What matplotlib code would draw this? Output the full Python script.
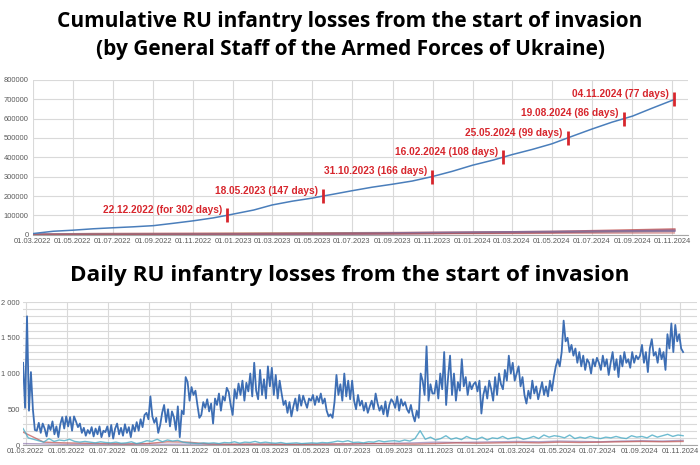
import matplotlib
matplotlib.use('Agg')
import matplotlib.pyplot as plt
import matplotlib.dates as mdates
import matplotlib.ticker as mticker
import pandas as pd

# ---------------- data ----------------
cum_dates = ['2022-03-01', '2022-04-01', '2022-05-01', '2022-06-01', '2022-07-01', '2022-08-01',
             '2022-09-01', '2022-10-01', '2022-11-01', '2022-12-01', '2022-12-22', '2023-01-01',
             '2023-02-01', '2023-03-01', '2023-04-01', '2023-05-01', '2023-05-18', '2023-06-01',
             '2023-07-01', '2023-08-01', '2023-09-01', '2023-10-01', '2023-10-31', '2023-12-01',
             '2024-01-01', '2024-02-01', '2024-02-16', '2024-03-01', '2024-04-01', '2024-05-01',
             '2024-05-25', '2024-06-01', '2024-07-01', '2024-08-01', '2024-08-19', '2024-09-01',
             '2024-10-01', '2024-11-01', '2024-11-04']
cum_values = [5700, 17700, 23200, 30500, 35750, 40670, 46750, 58750, 71820, 86710, 100000, 106720,
              127500, 153560, 173360, 188920, 200000, 208400, 227250, 245690, 261090, 277460, 300000,
              327580, 359230, 385380, 400000, 413760, 440760, 469840, 500000, 508920, 546000, 582000,
              600000, 612990, 654010, 695000, 700000]

milestone_dates = ['2022-12-22', '2023-05-18', '2023-10-31', '2024-02-16', '2024-05-25', '2024-08-19', '2024-11-04']
milestone_values = [100000, 200000, 300000, 400000, 500000, 600000, 700000]
milestone_labels = ['22.12.2022 (for 302 days)', '18.05.2023 (147 days)', '31.10.2023 (166 days)',
                    '16.02.2024 (108 days)', '25.05.2024 (99 days)', '19.08.2024 (86 days)', '04.11.2024 (77 days)']

other_dates = ['2022-03-01', '2022-06-01', '2022-10-01', '2023-01-01', '2023-05-01', '2023-09-01',
               '2024-01-01', '2024-05-01', '2024-09-01', '2024-11-04']
cum_vehicles = [300, 3200, 4300, 5100, 6600, 8300, 10600, 14300, 22400, 26900]
cum_artillery = [100, 700, 1500, 2000, 4000, 6800, 11000, 14200, 18000, 20200]
cum_apv = [800, 3100, 4600, 6000, 7000, 8000, 11000, 14000, 17000, 18600]
cum_tanks = [200, 1400, 2400, 3000, 3700, 4300, 5600, 7200, 8600, 9100]

daily_start = '2022-02-25'
daily_end = '2024-11-05'
daily_infantry = [
    1150, 520, 1800, 480, 1020, 500, 210, 200, 310, 170, 300, 230, 120, 280, 210, 330, 150, 260, 110, 290, 390,
    230, 400, 260, 390, 200, 400, 330, 250, 300, 170, 240, 130, 210, 160, 250, 120, 230, 150, 260, 110, 200,
    180, 260, 120, 280, 90, 230, 300, 150, 240, 130, 290, 170, 250, 110, 280, 190, 320, 200, 360, 250, 420,
    450, 360, 680, 400, 310, 380, 170, 280, 450, 560, 320, 500, 260, 470, 390, 210, 540, 110, 480, 430, 950,
    880, 620, 810, 700, 760, 560, 380, 420, 600, 520, 640, 470, 580, 300, 650, 560, 720, 480, 680, 620, 800,
    740, 560, 420, 780, 650, 860, 700, 900, 620, 870, 750, 1000, 680, 1150, 760, 640, 1050, 700, 920, 650, 1100,
    820, 1080, 700, 980, 650, 900, 720, 560, 620, 450, 600, 400, 540, 650, 480, 700, 550, 690, 600, 520, 650,
    620, 700, 560, 680, 600, 720, 580, 650, 480, 400, 430, 380, 600, 980, 700, 850, 620, 1000, 680, 900, 640,
    900, 620, 500, 700, 550, 620, 480, 590, 450, 540, 620, 500, 720, 580, 480, 550, 430, 610, 400, 560, 640,
    600, 520, 680, 480, 640, 550, 600, 500, 450, 560, 420, 330, 480, 380, 1000, 900, 700, 1380, 620, 850, 720,
    720, 900, 650, 1000, 780, 1300, 560, 950, 1250, 700, 1000, 620, 880, 760, 1200, 820, 950, 700, 880, 780, 850,
    880, 750, 900, 440, 700, 820, 650, 900, 780, 620, 950, 700, 1000, 850, 780, 1050, 900, 1250, 1000, 1150, 900,
    1000, 1100, 820, 950, 700, 580, 760, 650, 900, 720, 820, 640, 760, 880, 700, 820, 680, 900, 760, 950, 1100,
    1200, 1100, 1300, 1740, 1450, 1500, 1300, 1400, 1250, 1350, 1150, 1300, 1100, 1250, 1050, 1200, 1150, 1000, 1200, 1100, 1220,
    1150, 1050, 1250, 1100, 1200, 980, 1150, 1300, 1050, 1200, 950, 1250, 1100, 1300, 1150, 1200, 1080, 1300, 1150, 1250, 1200,
    1250, 1400, 1150, 1300, 1020, 1350, 1480, 1250, 1300, 1150, 1350, 1200, 1300, 1050, 1550, 1350, 1700, 1300, 1680, 1450, 1550,
    1350, 1300]

daily_cyan = [
    230, 100, 80, 60, 40, 90, 50, 70, 60, 80, 50, 40, 50, 40, 30, 45, 35, 30, 40, 25, 30, 45, 20, 35,
    60, 50, 80, 45, 70, 55, 65, 40, 30, 25, 20, 30, 25, 30, 20, 35,
    30, 45, 25, 40, 35, 50, 30, 40, 30, 25, 35, 20, 25, 30, 20, 25, 30, 25, 35, 30, 40, 55, 45, 60,
    35, 40, 30, 45, 40, 60, 45, 55, 60, 50, 70, 55, 90, 200, 80, 110, 70, 90, 130, 80, 100, 75, 120, 90,
    80, 110, 70, 100, 90, 120, 85, 100, 110, 80, 95, 120, 90, 140, 110, 130, 120, 100, 140, 90,
    110, 95, 120, 100, 90, 110, 100, 120, 100, 90, 130, 110, 120, 100, 140, 110, 130, 150, 120, 140, 130]
daily_red = [180, 40, 30, 25, 20, 15, 20, 45, 40, 15, 10, 12, 10, 8, 10, 12, 15, 20, 15, 12, 20, 30,
             25, 30, 35, 30, 40, 35, 40, 45, 50, 45, 50]
daily_purple = [20, 15, 10, 10, 8, 10, 12, 10, 12, 10, 8, 10, 12, 10, 12, 15, 15, 20, 25, 30, 40, 35,
                40, 45, 50, 45, 55, 50, 45, 55, 60, 55, 65]

title_top_1 = 'Cumulative RU infantry losses from the start of invasion'
title_top_2 = '(by General Staff of the Armed Forces of Ukraine)'
title_bottom = 'Daily RU infantry losses from the start of invasion'

# ---------------- styling ----------------
BLUE_TOP = '#4a7ebb'
BLUE = '#3d6eb4'
RED = '#d7262d'
GRID = '#d9d9d9'
TICK = '#595959'
TITLE_FONT = 'Open Sans'
TICK_FONT = 'Liberation Sans'

fig = plt.figure(figsize=(7, 4.65), dpi=100)

# ---------------- top chart ----------------
ax1 = fig.add_axes([0.047, 0.4953, 0.936, 0.3327])
cd = pd.to_datetime(cum_dates)
od = pd.to_datetime(other_dates)
ax1.plot(od, cum_vehicles, color='#c0504d', lw=1.8, alpha=0.8)
ax1.plot(od, cum_apv, color='#9bbb59', lw=1.0, alpha=0.7)
ax1.plot(od, cum_artillery, color='#8064a2', lw=1.8, alpha=0.8)
ax1.plot(od, cum_tanks, color='#c0504d', lw=1.0, alpha=0.6)
ax1.plot(cd, cum_values, color=BLUE_TOP, lw=1.1)

md = pd.to_datetime(milestone_dates)
ax1.plot(md, milestone_values, ls='none', marker='|', ms=10, mew=2.0, color=RED)
for d, v, lab in zip(md, milestone_values, milestone_labels):
    ax1.annotate(lab, xy=(d, v), xytext=(-3.6, 1.6), textcoords='offset points',
                 ha='right', va='baseline', color=RED, fontsize=7.3, fontweight='bold',
                 family='Liberation Sans')

ax1.set_xlim(pd.Timestamp('2022-03-01'), pd.Timestamp('2024-11-25'))
ax1.set_ylim(0, 800000)
ax1.yaxis.set_major_locator(mticker.MultipleLocator(100000))
ax1.yaxis.set_major_formatter(mticker.FuncFormatter(lambda v, p: f'{int(v)}'))

# ---------------- bottom chart ----------------
ax2 = fig.add_axes([0.033, 0.043, 0.963, 0.3075])
dd = pd.date_range(daily_start, daily_end, periods=len(daily_infantry))
cyd = pd.date_range(daily_start, daily_end, periods=len(daily_cyan))
rdd = pd.date_range(daily_start, daily_end, periods=len(daily_red))
pdd = pd.date_range(daily_start, daily_end, periods=len(daily_purple))
ax2.plot(pdd, daily_purple, color='#8064a2', lw=1.0, alpha=0.6)
ax2.plot(rdd, daily_red, color='#c0504d', lw=1.0, alpha=0.7)
ax2.plot(cyd, daily_cyan, color='#4bacc6', lw=1.0, alpha=0.8)
ax2.plot(dd, daily_infantry, color=BLUE, lw=1.3)

ax2.set_xlim(pd.Timestamp('2022-02-25'), pd.Timestamp('2024-11-26'))
ax2.set_ylim(0, 2000)
ax2.yaxis.set_major_locator(mticker.MultipleLocator(500))
ax2.yaxis.set_minor_locator(mticker.MultipleLocator(100))
ax2.yaxis.set_major_formatter(mticker.FuncFormatter(lambda v, p: f'{int(v):,}'.replace(',', ' ')))

for ax in (ax1, ax2):
    ax.xaxis.set_major_locator(mdates.MonthLocator(bymonth=[1, 3, 5, 7, 9, 11]))
    ax.xaxis.set_major_formatter(mdates.DateFormatter('%d.%m.%Y'))
    ax.grid(True, which='both', color=GRID, lw=0.8)
    ax.set_axisbelow(True)
    for s in ('top', 'right', 'left'):
        ax.spines[s].set_visible(False)
    ax.spines['bottom'].set_color('#a6a6a6')
    ax.spines['bottom'].set_linewidth(0.8)
    ax.tick_params(axis='both', which='both', length=0, colors=TICK, labelsize=5.4)
    ax.tick_params(axis='x', pad=2.5)
    ax.tick_params(axis='y', pad=3.0)
    for lab in ax.get_xticklabels() + ax.get_yticklabels():
        lab.set_family(TICK_FONT)
ax2.tick_params(axis='y', pad=2.5)

# ---------------- titles ----------------
fig.text(0.5, 1 - 22 / 465, title_top_1, ha='center', va='center', fontsize=15,
         fontweight='bold', family=TITLE_FONT)
fig.text(0.5, 1 - 50 / 465, title_top_2, ha='center', va='center', fontsize=15,
         fontweight='bold', family=TITLE_FONT)
fig.text(0.5, 1 - 275 / 465, title_bottom, ha='center', va='center', fontsize=16.2,
         fontweight='bold', family=TITLE_FONT)

fig.savefig('out.png', dpi=100)
